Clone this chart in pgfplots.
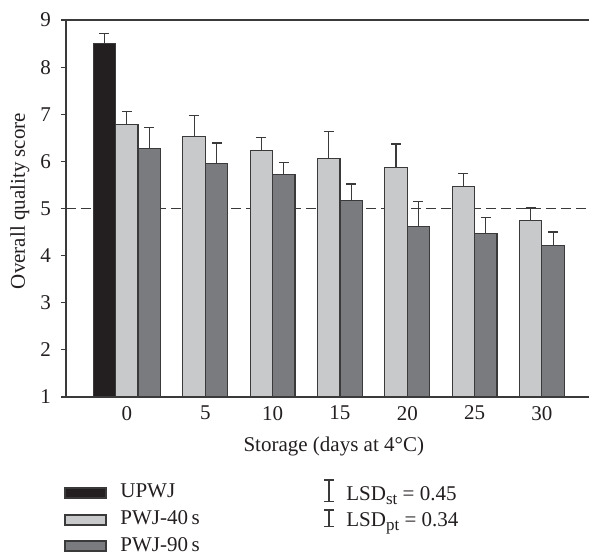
\documentclass[border=0pt]{standalone}
\usepackage{fontspec}
\setmainfont{Liberation Serif}
\usepackage{pgfplots}
\pgfplotsset{compat=1.18}
\definecolor{barblack}{RGB}{35,31,32}
\definecolor{barlight}{RGB}{200,201,203}
\definecolor{bardark}{RGB}{122,123,127}
\definecolor{edge}{RGB}{58,58,58}
\definecolor{txt}{RGB}{35,31,32}

\pgfplotsset{
  eb/.style={error bars/.cd, y dir=plus, y explicit,
    error bar style={draw=edge, line width=0.6pt},
    error mark options={rotate=90, mark size=2.5pt, draw=edge, line width=0.6pt}},
}

\begin{document}
\begin{tikzpicture}[font=\fontsize{10.5}{12.6}\selectfont, text=txt]
\begin{axis}[
  at={(0,0)}, anchor=south west,
  width=261.5pt, height=188.5pt, scale only axis,
  xmin=-1.07, xmax=6.70, ymin=1, ymax=9,
  ytick={1,...,9},
  xtick={-0.1667,1,2,3,4,5,6},
  xticklabels={0,5,10,15,20,25,30},
  /pgf/number format/assume math mode=true,
  axis line style={draw=none},
  xtick style={draw=none},
  ytick style={draw=edge, line width=0.6pt},
  tick align=outside, ytick pos=left, major tick length=2.5pt,
  yticklabel style={xshift=-1.5pt},
  xticklabel style={yshift=1.5pt},
  xlabel={Storage (days at 4°C)},
  ylabel={Overall quality score},
  xlabel style={at={(axis description cs:0.512,0)}, anchor=base, yshift=-27pt},
  ylabel style={at={(axis description cs:-0.0784,0.52)}, anchor=base},
  ybar, bar width=0.3333, bar shift=0pt,
]
% reference line at score 5
\addplot[sharp plot, draw=edge, line width=0.6pt, dash pattern=on 5pt off 2.5pt, forget plot]
  coordinates {(-1.07,5) (6.70,5)};

% UPWJ (day 0 only)
\addplot[fill=barblack, draw=edge, line width=0.6pt, eb]
  coordinates {(-0.5,8.50) +- (0,0.21)};

% PWJ-40 s
\addplot[fill=barlight, draw=edge, line width=0.6pt, eb]
  coordinates {
    (-0.1667,6.79) +- (0,0.27)
    (0.8333,6.52) +- (0,0.45)
    (1.8333,6.23) +- (0,0.28)
    (2.8333,6.06) +- (0,0.57)
    (3.8333,5.87) +- (0,0.50)
    (4.8333,5.46) +- (0,0.28)
    (5.8333,4.75) +- (0,0.26)
  };

% PWJ-90 s
\addplot[fill=bardark, draw=edge, line width=0.6pt, eb]
  coordinates {
    (0.1667,6.27) +- (0,0.45)
    (1.1667,5.95) +- (0,0.44)
    (2.1667,5.73) +- (0,0.24)
    (3.1667,5.17) +- (0,0.35)
    (4.1667,4.62) +- (0,0.53)
    (5.1667,4.47) +- (0,0.34)
    (6.1667,4.22) +- (0,0.28)
  };
\end{axis}

% frame, legend and LSD key, in reference pixel units
\begin{scope}[x=0.5pt, y=-0.5pt, shift={(-33pt,198.5pt)}]
  \draw[edge, line width=0.7pt] (66,20) -- (589,20);
  \draw[edge, line width=0.7pt] (66,20) -- (66,397) -- (589,397);

  \draw[edge, line width=0.6pt, fill=barblack] (65,488) rectangle (106,498);
  \draw[edge, line width=0.6pt, fill=barlight] (65,515) rectangle (106,525);
  \draw[edge, line width=0.6pt, fill=bardark]  (65,541) rectangle (106,551);
  \node[anchor=base west, inner sep=0pt] at (120,497) {UPWJ};
  \node[anchor=base west, inner sep=0pt] at (120,524) {PWJ-40\,s};
  \node[anchor=base west, inner sep=0pt] at (120,551) {PWJ-90\,s};

  \draw[edge, line width=0.6pt] (324,480) -- (334,480) (329,480) -- (329,501.5) (324,501.5) -- (334,501.5);
  \draw[edge, line width=0.6pt] (324,510) -- (334,510) (329,510) -- (329,526.5) (324,526.5) -- (334,526.5);
  \node[anchor=base west, inner sep=0pt] at (346,500)
    {LSD\raisebox{-0.45ex}{\fontsize{8.5}{9}\selectfont st} = 0.45};
  \node[anchor=base west, inner sep=0pt] at (346,526)
    {LSD\raisebox{-0.45ex}{\fontsize{8.5}{9}\selectfont pt} = 0.34};

  \pgfresetboundingbox
  \path[use as bounding box] (0,0) rectangle (589,554);
\end{scope}
\end{tikzpicture}
\end{document}
